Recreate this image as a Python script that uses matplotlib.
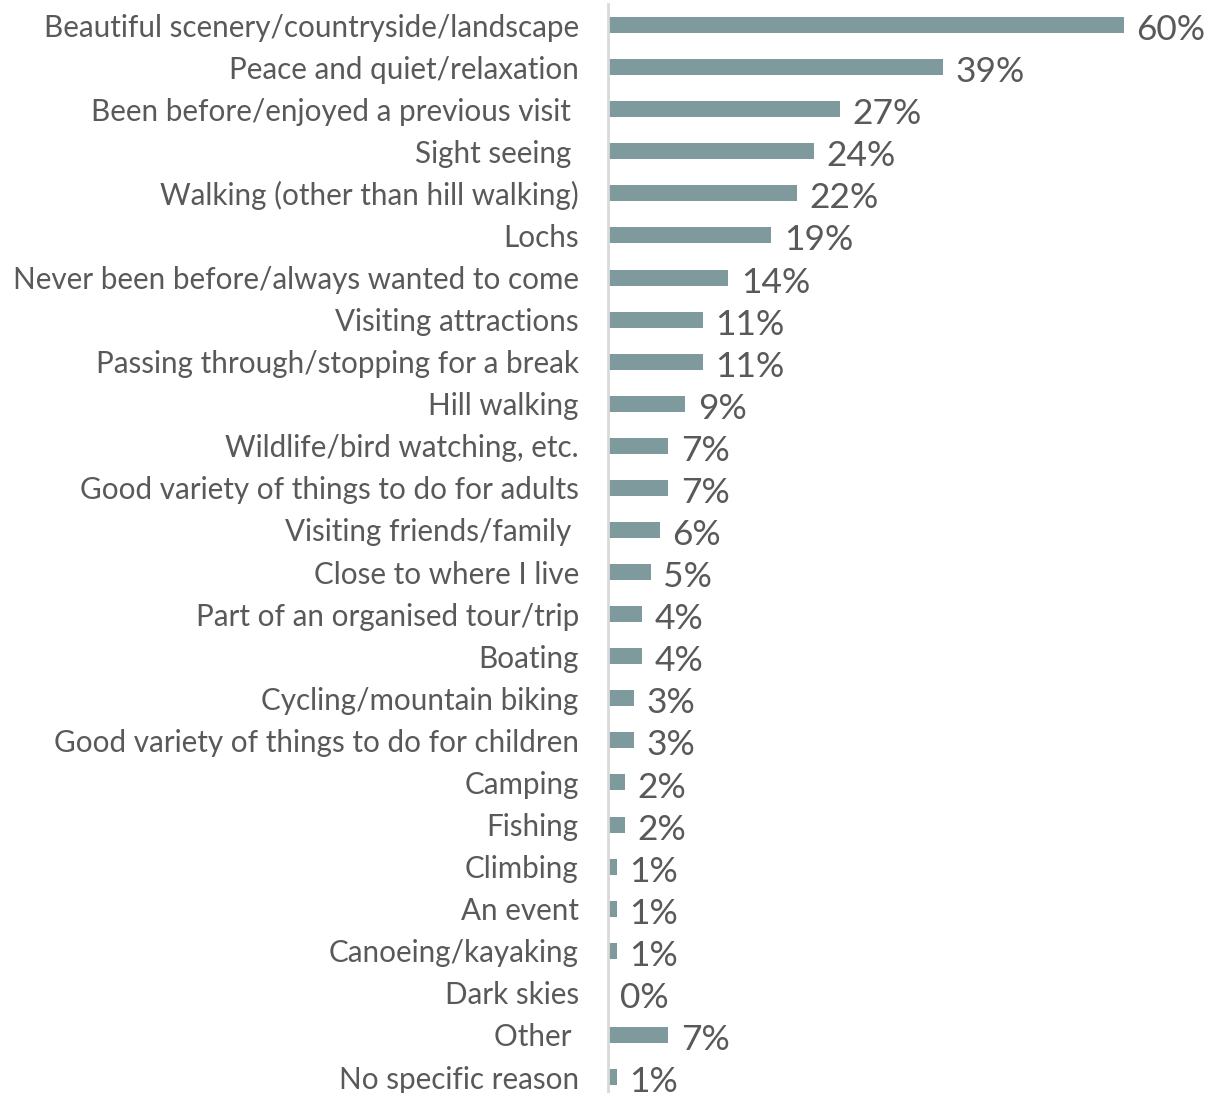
import matplotlib.pyplot as plt

reasons = [
    "Beautiful scenery/countryside/landscape",
    "Peace and quiet/relaxation",
    "Been before/enjoyed a previous visit ",
    "Sight seeing ",
    "Walking (other than hill walking)",
    "Lochs",
    "Never been before/always wanted to come",
    "Visiting attractions",
    "Passing through/stopping for a break",
    "Hill walking",
    "Wildlife/bird watching, etc.",
    "Good variety of things to do for adults",
    "Visiting friends/family ",
    "Close to where I live",
    "Part of an organised tour/trip",
    "Boating",
    "Cycling/mountain biking",
    "Good variety of things to do for children",
    "Camping",
    "Fishing",
    "Climbing",
    "An event",
    "Canoeing/kayaking",
    "Dark skies",
    "Other ",
    "No specific reason",
]
pct = [60, 39, 27, 24, 22, 19, 14, 11, 11, 9, 7, 7, 6, 5, 4, 4, 3, 3, 2, 2, 1, 1, 1, 0, 7, 1]

plt.rcParams['font.family'] = ['Lato', 'DejaVu Sans']
text_col = '#595959'
bar_col = '#7F9A9C'

fig = plt.figure(figsize=(12.24, 10.93), dpi=100)
ax = fig.add_axes([608 / 1224, 0, 1 - 608 / 1224, 1 - 4 / 1093])

ypos = list(range(len(reasons)))
ax.barh(ypos, pct, height=0.38, color=bar_col, left=0)
ax.set_xlim(0, (1224 - 608) / 8.6)
ax.set_ylim(25.38, -0.5)

for y, v in zip(ypos, pct):
    ax.text(v + 1.45, y + 0.12, f"{v}%", va='center', ha='left',
            fontsize=25.5, color=text_col)

ax.set_yticks(ypos)
ax.set_yticklabels(reasons, fontsize=21.3, color=text_col)
ax.tick_params(axis='y', length=0, pad=21)
ax.set_xticks([])
for side in ['top', 'right', 'bottom']:
    ax.spines[side].set_visible(False)
ax.spines['left'].set_color('#D9D9D9')
ax.spines['left'].set_linewidth(2)

# footnote running off the lower edge
fig.text(1130 / 1224, -0.014, "Base: all", fontsize=25.5, color=text_col,
         ha='left', va='center')

fig.savefig('out.png', dpi=100)
